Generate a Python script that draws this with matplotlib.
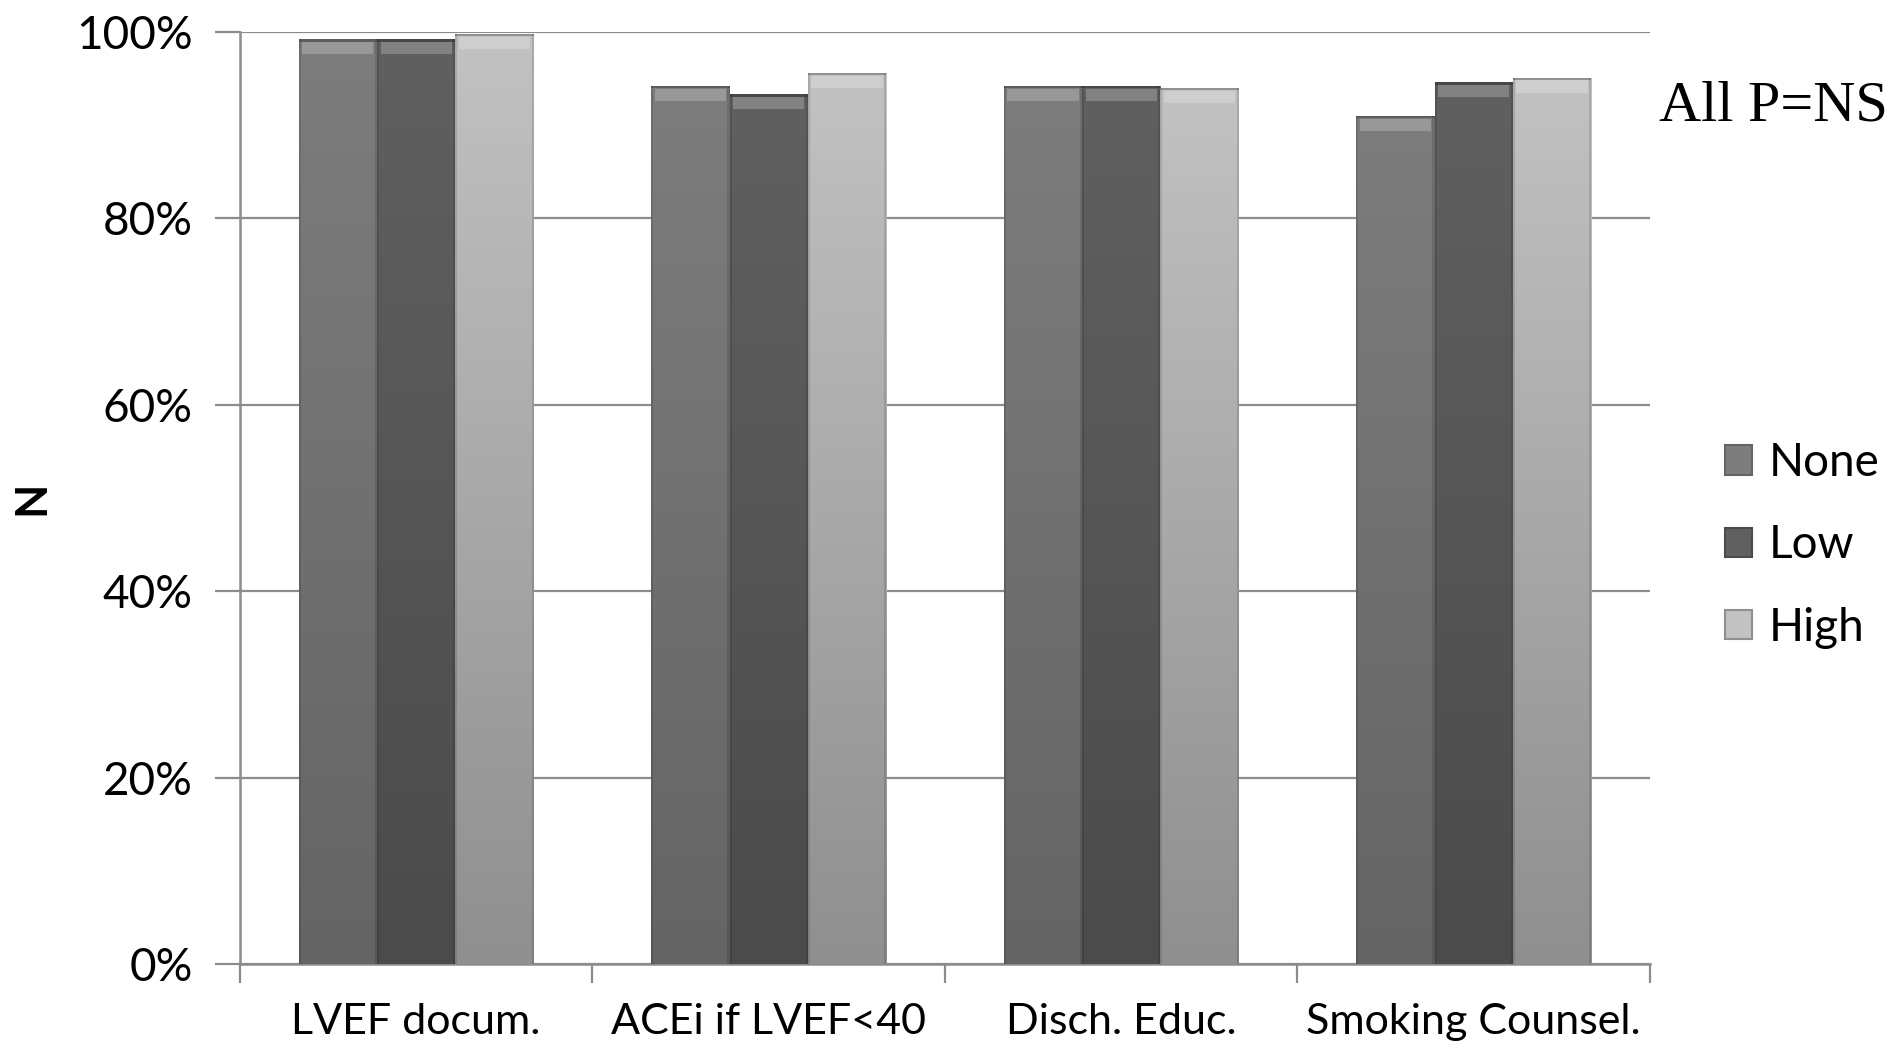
import numpy as np
import matplotlib.pyplot as plt
from matplotlib.patches import Rectangle, Patch
from matplotlib.colors import LinearSegmentedColormap
from matplotlib.ticker import FuncFormatter

categories = ['LVEF docum.', 'ACEi if LVEF<40', 'Disch. Educ.', 'Smoking Counsel.']
groups = ['None', 'Low', 'High']
none_vals = [99.2, 94.2, 94.2, 91.0]
low_vals = [99.2, 93.3, 94.2, 94.6]
high_vals = [99.8, 95.6, 94.0, 95.1]

# top / bottom shade of each series
shades = {
    'None': ('#7d7d7d', '#646464'),
    'Low': ('#606060', '#4b4b4b'),
    'High': ('#c2c2c2', '#8f8f8f'),
}

plt.rcParams['font.family'] = ['Lato', 'DejaVu Sans']

fig = plt.figure(figsize=(18.95, 10.45), dpi=100)
ax = fig.add_axes([0.1266, 0.0775, 0.7441, 0.8919])

n = len(categories)
x = np.arange(n)
width = 2 / 9
series = [none_vals, low_vals, high_vals]

ax.set_xlim(-0.5, n - 0.5)
ax.set_ylim(0, 100)

grad = np.linspace(0, 1, 256).reshape(-1, 1)
for i, (name, vals) in enumerate(zip(groups, series)):
    top_c, bot_c = shades[name]
    cmap = LinearSegmentedColormap.from_list(name, [bot_c, top_c])
    xs = x + (i - 1) * width
    bars = ax.bar(xs, vals, width, color=top_c, edgecolor='none', zorder=2)
    for b, v in zip(bars, vals):
        x0 = b.get_x()
        im = ax.imshow(grad, cmap=cmap, origin='lower', aspect='auto',
                       extent=[x0, x0 + width, 0, v], zorder=3)
        im.set_clip_path(b)
        # bevelled cap and darker seams
        ax.add_patch(Rectangle((x0, v - 0.25), width, 0.25,
                               facecolor='black', alpha=0.25, lw=0, zorder=5))
        ax.add_patch(Rectangle((x0 + 0.01, v - 1.6), width - 0.02, 1.3,
                               facecolor='white', alpha=0.22, lw=0, zorder=4))
        ax.add_patch(Rectangle((x0, 0), 0.006, v, facecolor='black',
                               alpha=0.12, lw=0, zorder=4))
        ax.add_patch(Rectangle((x0 + width - 0.006, 0), 0.006, v,
                               facecolor='black', alpha=0.12, lw=0, zorder=4))

ax.set_yticks(np.arange(0, 101, 20))
ax.yaxis.set_major_formatter(FuncFormatter(lambda v, p: f'{v:.0f}%'))
ax.yaxis.grid(True, color='#8c8c8c', lw=1.6, zorder=1)
ax.set_axisbelow(True)

ax.set_xticks(np.arange(n + 1) - 0.5, minor=False)
ax.set_xticklabels([])
ax.set_xticks(x, minor=True)
ax.set_xticklabels(categories, minor=True)
ax.tick_params(axis='x', which='major', length=14, width=1.6, color='#8c8c8c', direction='out')
ax.tick_params(axis='x', which='minor', length=0, pad=28, labelsize=31)
ax.tick_params(axis='y', length=18, width=1.6, color='#8c8c8c', labelsize=33, pad=16)

for side in ['top', 'right']:
    ax.spines[side].set_visible(False)
for side in ['left', 'bottom']:
    ax.spines[side].set_color('#8c8c8c')
    ax.spines[side].set_linewidth(1.8)

ax.set_ylabel('N', fontsize=32, fontweight='bold', labelpad=18)

handles = [Patch(facecolor=shades[g][0], edgecolor=shades[g][1], lw=1.5) for g in groups]
fig.legend(handles, groups, loc='center left', bbox_to_anchor=(0.9005, 0.478),
           frameon=False, fontsize=33, handlelength=0.6, handleheight=0.6,
           handletextpad=0.35, labelspacing=0.88, borderaxespad=0)

fig.text(0.8755, 0.898, 'All P=NS', family='Liberation Serif', fontsize=42,
         va='center', ha='left')

fig.savefig('out.png', dpi=100, facecolor='white')
